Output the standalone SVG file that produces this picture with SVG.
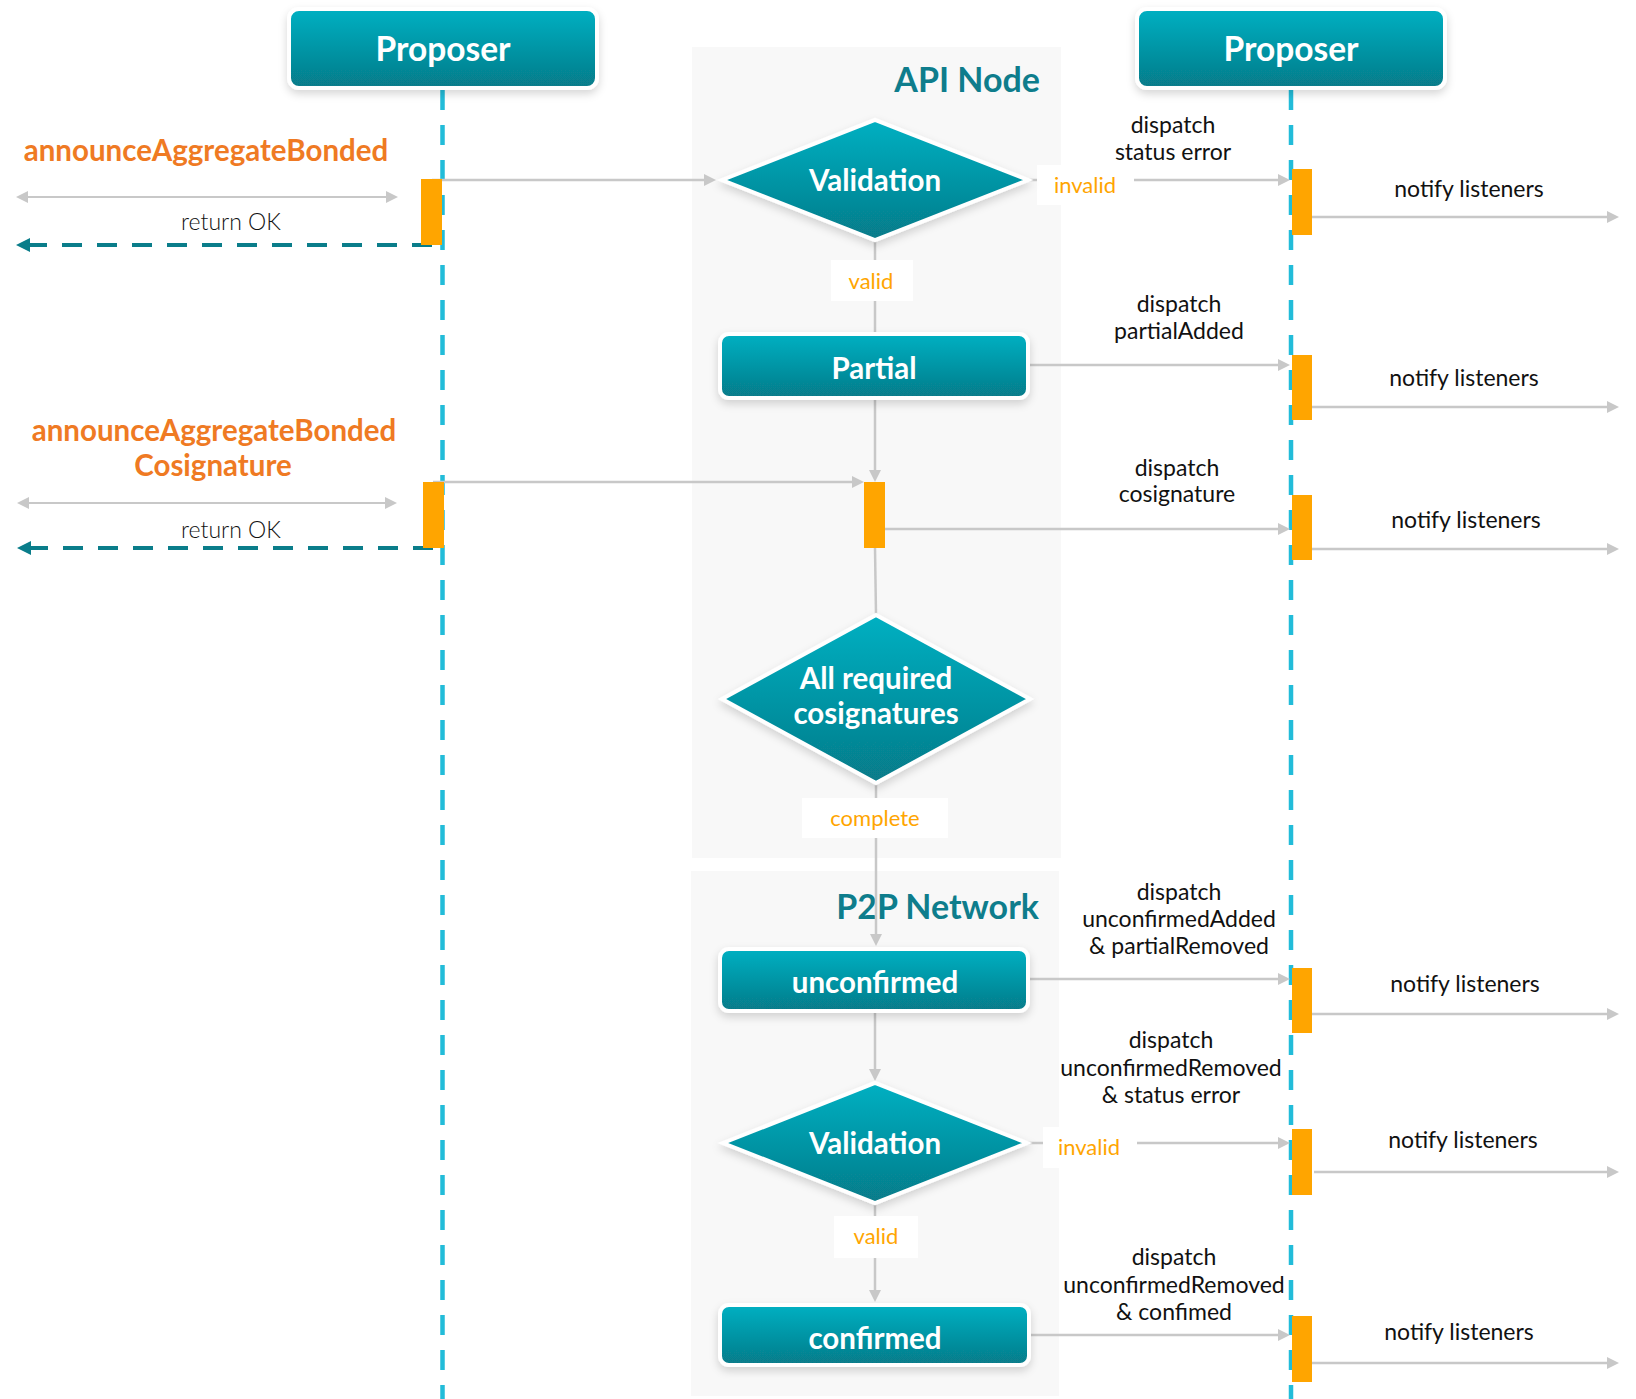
<svg xmlns="http://www.w3.org/2000/svg" width="1636" height="1399" viewBox="0 0 1636 1399">
  <defs>
    <linearGradient id="tealFill" x1="0" y1="0" x2="0" y2="1">
      <stop offset="0" stop-color="#03b0c2"/>
      <stop offset="1" stop-color="#077b89"/>
    </linearGradient>
    <filter id="softShadow" x="-10%" y="-20%" width="120%" height="150%">
      <feDropShadow dx="0" dy="4" stdDeviation="4" flood-color="#000" flood-opacity="0.16"/>
    </filter>
    <marker id="grayHead" viewBox="0 0 12 12" refX="4" refY="6" markerWidth="12" markerHeight="12" markerUnits="userSpaceOnUse" orient="auto-start-reverse">
      <path d="M0,0 L12,6 L0,12 z" fill="#c8c8c8"/>
    </marker>
    <marker id="tealHead" viewBox="0 0 14 14" refX="4" refY="7" markerWidth="14" markerHeight="14" markerUnits="userSpaceOnUse" orient="auto">
      <path d="M0,0 L14,7 L0,14 z" fill="#0a7d8a"/>
    </marker>
    <style>
      text { font-family: Lato, "Liberation Sans", sans-serif; }
      .box { fill: url(#tealFill); stroke: #ffffff; stroke-width: 4; filter: url(#softShadow); }
      .boxText { fill: #ffffff; font-weight: 700; text-anchor: middle; font-size: 29.5px; }
      .actorText { fill: #ffffff; font-weight: 700; text-anchor: middle; font-size: 33.5px; }
      .panel { fill: #f8f8f8; }
      .panelTitle { fill: #0e7d8c; font-weight: 700; font-size: 34px; text-anchor: end; }
      .lifeline { stroke: #22bcd9; stroke-width: 4.5; stroke-dasharray: 20 15; fill: none; }
      .bar { fill: #ffa500; }
      .flow { stroke: #c8c8c8; stroke-width: 2.5; fill: none; }
      .flowArrow { stroke: #c8c8c8; stroke-width: 2.5; fill: none; marker-end: url(#grayHead); }
      .both { stroke: #c8c8c8; stroke-width: 2; fill: none; marker-start: url(#grayHead); marker-end: url(#grayHead); }
      .ret { stroke: #0a7d8a; stroke-width: 4; stroke-dasharray: 20 15; fill: none; marker-end: url(#tealHead); }
      .tagBg { fill: #ffffff; }
      .tag { fill: #ffa500; font-size: 22px; text-anchor: middle; }
      .msg { fill: #111111; font-size: 23px; text-anchor: middle; }
      .okText { fill: #111111; font-size: 23px; font-weight: 300; text-anchor: middle; }
      .call { fill: #ef7a23; font-size: 29.5px; font-weight: 700; text-anchor: middle; }
    </style>
  </defs>

  <rect width="1636" height="1399" fill="#ffffff"/>

  <!-- swimlane panels -->
  <g id="api-node-panel">
    <rect class="panel" x="692" y="47" width="369" height="811"/>
    <text class="panelTitle" x="1040" y="92">API Node</text>
  </g>
  <g id="p2p-network-panel">
    <rect class="panel" x="691" y="871" width="368" height="525"/>
    <text class="panelTitle" x="1039" y="919">P2P Network</text>
  </g>

  <!-- lifelines -->
  <g id="lifelines">
    <line class="lifeline" x1="442.5" y1="90" x2="442.5" y2="1399"/>
    <line class="lifeline" x1="1291" y1="90" x2="1291" y2="1399"/>
  </g>

  <!-- connectors -->
  <g id="connectors">
    <!-- left proposer calls -->
    <line class="flowArrow" x1="432" y1="180" x2="708" y2="180"/>
    <line class="both" x1="24" y1="197" x2="390" y2="197"/>
    <line class="ret" x1="432" y1="245" x2="26" y2="245"/>
    <line class="flowArrow" x1="433" y1="482" x2="856" y2="482"/>
    <line class="both" x1="25" y1="503" x2="389" y2="503"/>
    <line class="ret" x1="433" y1="548" x2="27" y2="548"/>

    <!-- API node flow -->
    <line class="flowArrow" x1="1028" y1="180" x2="1282" y2="180"/>
    <line class="flow" x1="875" y1="240" x2="875" y2="334"/>
    <line class="flowArrow" x1="1028" y1="365" x2="1282" y2="365"/>
    <line class="flowArrow" x1="875" y1="398" x2="875" y2="474"/>
    <line class="flowArrow" x1="885" y1="529" x2="1282" y2="529"/>
    <line class="flow" x1="875" y1="548" x2="876" y2="615"/>
    <line class="flowArrow" x1="876" y1="783" x2="876" y2="938"/>

    <!-- P2P network flow -->
    <line class="flowArrow" x1="1028" y1="979" x2="1282" y2="979"/>
    <line class="flowArrow" x1="875" y1="1011" x2="875" y2="1073"/>
    <line class="flowArrow" x1="1027" y1="1143" x2="1282" y2="1143"/>
    <line class="flowArrow" x1="875" y1="1203" x2="875" y2="1294"/>
    <line class="flowArrow" x1="1029" y1="1335" x2="1282" y2="1335"/>

    <!-- notify listeners -->
    <line class="flowArrow" x1="1312" y1="217" x2="1611" y2="217"/>
    <line class="flowArrow" x1="1312" y1="407" x2="1611" y2="407"/>
    <line class="flowArrow" x1="1312" y1="549" x2="1611" y2="549"/>
    <line class="flowArrow" x1="1312" y1="1014" x2="1611" y2="1014"/>
    <line class="flowArrow" x1="1314" y1="1172" x2="1611" y2="1172"/>
    <line class="flowArrow" x1="1312" y1="1363" x2="1611" y2="1363"/>

    <!-- branch tags -->
    <rect class="tagBg" x="1037" y="165" width="97" height="40"/>
    <text class="tag" x="1085" y="193">invalid</text>
    <rect class="tagBg" x="831" y="260" width="82" height="41"/>
    <text class="tag" x="871" y="289">valid</text>
    <rect class="tagBg" x="802" y="798" width="146" height="40"/>
    <text class="tag" x="875" y="826">complete</text>
    <rect class="tagBg" x="1043" y="1127" width="94" height="41"/>
    <text class="tag" x="1089" y="1155">invalid</text>
    <rect class="tagBg" x="834" y="1216" width="84" height="42"/>
    <text class="tag" x="876" y="1244">valid</text>

    <!-- message labels -->
    <text class="call" x="206" y="161">announceAggregateBonded</text>
    <text class="okText" x="231" y="230">return OK</text>
    <text class="call" x="214" y="441">announceAggregateBonded</text>
    <text class="call" x="213" y="476">Cosignature</text>
    <text class="okText" x="231" y="538">return OK</text>

    <text class="msg" x="1173" y="133">dispatch</text>
    <text class="msg" x="1173" y="160">status error</text>
    <text class="msg" x="1179" y="312">dispatch</text>
    <text class="msg" x="1179" y="339">partialAdded</text>
    <text class="msg" x="1177" y="476">dispatch</text>
    <text class="msg" x="1177" y="502">cosignature</text>
    <text class="msg" x="1179" y="900">dispatch</text>
    <text class="msg" x="1179" y="927">unconfirmedAdded</text>
    <text class="msg" x="1179" y="954">&amp; partialRemoved</text>
    <text class="msg" x="1171" y="1048">dispatch</text>
    <text class="msg" x="1171" y="1076">unconfirmedRemoved</text>
    <text class="msg" x="1171" y="1103">&amp; status error</text>
    <text class="msg" x="1174" y="1265">dispatch</text>
    <text class="msg" x="1174" y="1293">unconfirmedRemoved</text>
    <text class="msg" x="1174" y="1320">&amp; confimed</text>

    <text class="msg" x="1469" y="197">notify listeners</text>
    <text class="msg" x="1464" y="386">notify listeners</text>
    <text class="msg" x="1466" y="528">notify listeners</text>
    <text class="msg" x="1465" y="992">notify listeners</text>
    <text class="msg" x="1463" y="1148">notify listeners</text>
    <text class="msg" x="1459" y="1340">notify listeners</text>
  </g>

  <!-- activation bars -->
  <g id="activations">
    <rect class="bar" x="421" y="179" width="21" height="66"/>
    <rect class="bar" x="423" y="482" width="21" height="66"/>
    <rect class="bar" x="864" y="482" width="21" height="66"/>
    <rect class="bar" x="1292" y="169" width="20" height="66"/>
    <rect class="bar" x="1292" y="355" width="20" height="65"/>
    <rect class="bar" x="1292" y="495" width="20" height="65"/>
    <rect class="bar" x="1292" y="968" width="20" height="65"/>
    <rect class="bar" x="1292" y="1129" width="20" height="66"/>
    <rect class="bar" x="1292" y="1316" width="20" height="66"/>
  </g>

  <!-- nodes -->
  <g id="proposer-left">
    <rect class="box" x="289" y="9" width="308" height="79" rx="10"/>
    <text class="actorText" x="443" y="61">Proposer</text>
  </g>
  <g id="proposer-right">
    <rect class="box" x="1137" y="9" width="308" height="79" rx="10"/>
    <text class="actorText" x="1291" y="61">Proposer</text>
  </g>
  <g id="validation-api">
    <polygon class="box" points="722,180 875,120 1028,180 875,240"/>
    <text class="boxText" x="875" y="191">Validation</text>
  </g>
  <g id="partial">
    <rect class="box" x="720" y="334" width="308" height="64" rx="9"/>
    <text class="boxText" x="874" y="379">Partial</text>
  </g>
  <g id="all-required-cosignatures">
    <polygon class="box" points="722,699 876,615 1030,699 876,783"/>
    <text class="boxText" x="876" y="689">All required</text>
    <text class="boxText" x="876" y="724">cosignatures</text>
  </g>
  <g id="unconfirmed">
    <rect class="box" x="720" y="949" width="308" height="62" rx="9"/>
    <text class="boxText" x="875" y="993">unconfirmed</text>
  </g>
  <g id="validation-p2p">
    <polygon class="box" points="723,1143 875,1083 1027,1143 875,1203"/>
    <text class="boxText" x="875" y="1154">Validation</text>
  </g>
  <g id="confirmed">
    <rect class="box" x="720" y="1305" width="309" height="60" rx="9"/>
    <text class="boxText" x="875" y="1349">confirmed</text>
  </g>
</svg>
